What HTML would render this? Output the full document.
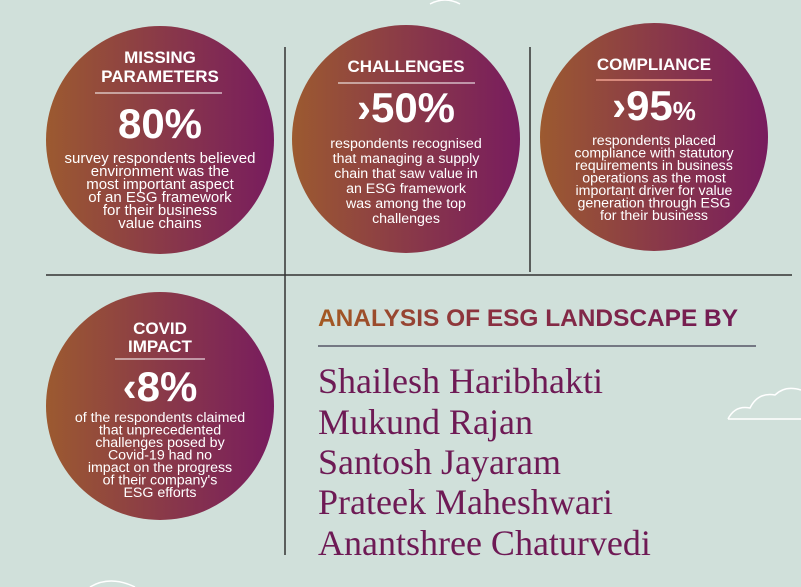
<!DOCTYPE html>
<html><head><meta charset="utf-8"><style>
html,body{margin:0;padding:0;background:#d0e0da;}
svg{display:block;}
.t{font-family:"Liberation Sans",sans-serif;fill:#fff;text-anchor:middle;}
.h{font-weight:bold;font-size:17px;}
.big{font-weight:bold;font-size:42px;}
.b{font-size:14.2px;}
.nm{font-family:"Liberation Serif",serif;font-size:36px;fill:#6e1a55;}
</style></head><body>
<svg width="801" height="587" viewBox="0 0 801 587">
<defs>
<linearGradient id="g" x1="0" x2="1" y1="0" y2="0">
<stop offset="0" stop-color="#9c5a30"/><stop offset="0.5" stop-color="#8a3a48"/><stop offset="1" stop-color="#781c5e"/>
</linearGradient>
<linearGradient id="tg" x1="0" x2="1" y1="0" y2="0">
<stop offset="0" stop-color="#a45a22"/><stop offset="0.4" stop-color="#8a3040"/><stop offset="1" stop-color="#721a54"/>
</linearGradient>
</defs>
<rect width="801" height="587" fill="#d0e0da"/>
<g stroke="#333" stroke-width="1.5">
<line x1="285" y1="47" x2="285" y2="555"/>
<line x1="530" y1="47" x2="530" y2="272"/>
<line x1="46" y1="275" x2="792" y2="275"/>
</g>
<path d="M728 419 Q735 405 750 408 Q758 392 775 395 Q785 385 801 390" fill="none" stroke="#fff" stroke-width="1.5"/>
<line x1="728" y1="419" x2="801" y2="419" stroke="#fff" stroke-width="1.5"/>
<path d="M430 4 Q445 -4 460 4" fill="none" stroke="#fff" stroke-width="1.5"/>
<path d="M90 587 Q110 575 135 587" fill="none" stroke="#fff" stroke-width="1.5"/>

<g>
<circle cx="160" cy="140" r="114" fill="url(#g)"/>
<text class="t h" x="160" y="63">MISSING</text>
<text class="t h" x="160" y="82">PARAMETERS</text>
<line x1="95" y1="93" x2="222" y2="93" stroke="#fff" stroke-width="1"/>
<text class="t big" x="160" y="138">80%</text>
<text class="t b" x="160" y="163" style="font-size:15px">survey respondents believed</text>
<text class="t b" x="160" y="176" style="font-size:15px">environment was the</text>
<text class="t b" x="160" y="189" style="font-size:15px">most important aspect</text>
<text class="t b" x="160" y="202" style="font-size:15px">of an ESG framework</text>
<text class="t b" x="160" y="215" style="font-size:15px">for their business</text>
<text class="t b" x="160" y="228" style="font-size:15px">value chains</text>
</g>
<g>
<circle cx="406" cy="139" r="114" fill="url(#g)"/>
<text class="t h" x="406" y="72">CHALLENGES</text>
<line x1="338" y1="83" x2="475" y2="83" stroke="#fff" stroke-width="1"/>
<text class="t big" x="406" y="122">›50%</text>
<text class="t b" x="406" y="148">respondents recognised</text>
<text class="t b" x="406" y="163">that managing a supply</text>
<text class="t b" x="406" y="178">chain that saw value in</text>
<text class="t b" x="406" y="193">an ESG framework</text>
<text class="t b" x="406" y="208">was among the top</text>
<text class="t b" x="406" y="223">challenges</text>
</g>
<g>
<circle cx="654" cy="137" r="114" fill="url(#g)"/>
<text class="t h" x="654" y="70">COMPLIANCE</text>
<line x1="596" y1="80" x2="712" y2="80" stroke="#f0a090" stroke-width="1.5"/>
<text class="t big" x="654" y="120">›95<tspan font-size="26">%</tspan></text>
<text class="t b" x="654" y="145">respondents placed</text>
<text class="t b" x="654" y="157.5">compliance with statutory</text>
<text class="t b" x="654" y="170">requirements in business</text>
<text class="t b" x="654" y="182.5">operations as the most</text>
<text class="t b" x="654" y="195">important driver for value</text>
<text class="t b" x="654" y="207.5">generation through ESG</text>
<text class="t b" x="654" y="220">for their business</text>
</g>
<g>
<circle cx="160" cy="406" r="114" fill="url(#g)"/>
<text class="t h" x="160" y="334">COVID</text>
<text class="t h" x="160" y="352">IMPACT</text>
<line x1="115" y1="359" x2="205" y2="359" stroke="#fff" stroke-width="1"/>
<text class="t big" x="160" y="401">‹8%</text>
<text class="t b" x="160" y="422">of the respondents claimed</text>
<text class="t b" x="160" y="434.5">that unprecedented</text>
<text class="t b" x="160" y="447">challenges posed by</text>
<text class="t b" x="160" y="459.5">Covid-19 had no</text>
<text class="t b" x="160" y="472">impact on the progress</text>
<text class="t b" x="160" y="484.5">of their company's</text>
<text class="t b" x="160" y="497">ESG efforts</text>
</g>
<text x="318" y="326" font-family="Liberation Sans, sans-serif" font-weight="bold" font-size="24.5" fill="url(#tg)" textLength="420" lengthAdjust="spacingAndGlyphs">ANALYSIS OF ESG LANDSCAPE BY</text>
<line x1="318" y1="346" x2="756" y2="346" stroke="#556" stroke-width="1.5"/>
<g>
<text class="nm" x="318" y="393">Shailesh Haribhakti</text>
<text class="nm" x="318" y="434">Mukund Rajan</text>
<text class="nm" x="318" y="474">Santosh Jayaram</text>
<text class="nm" x="318" y="514">Prateek Maheshwari</text>
<text class="nm" x="318" y="555">Anantshree Chaturvedi</text>
</g>
</svg>
</body></html>
